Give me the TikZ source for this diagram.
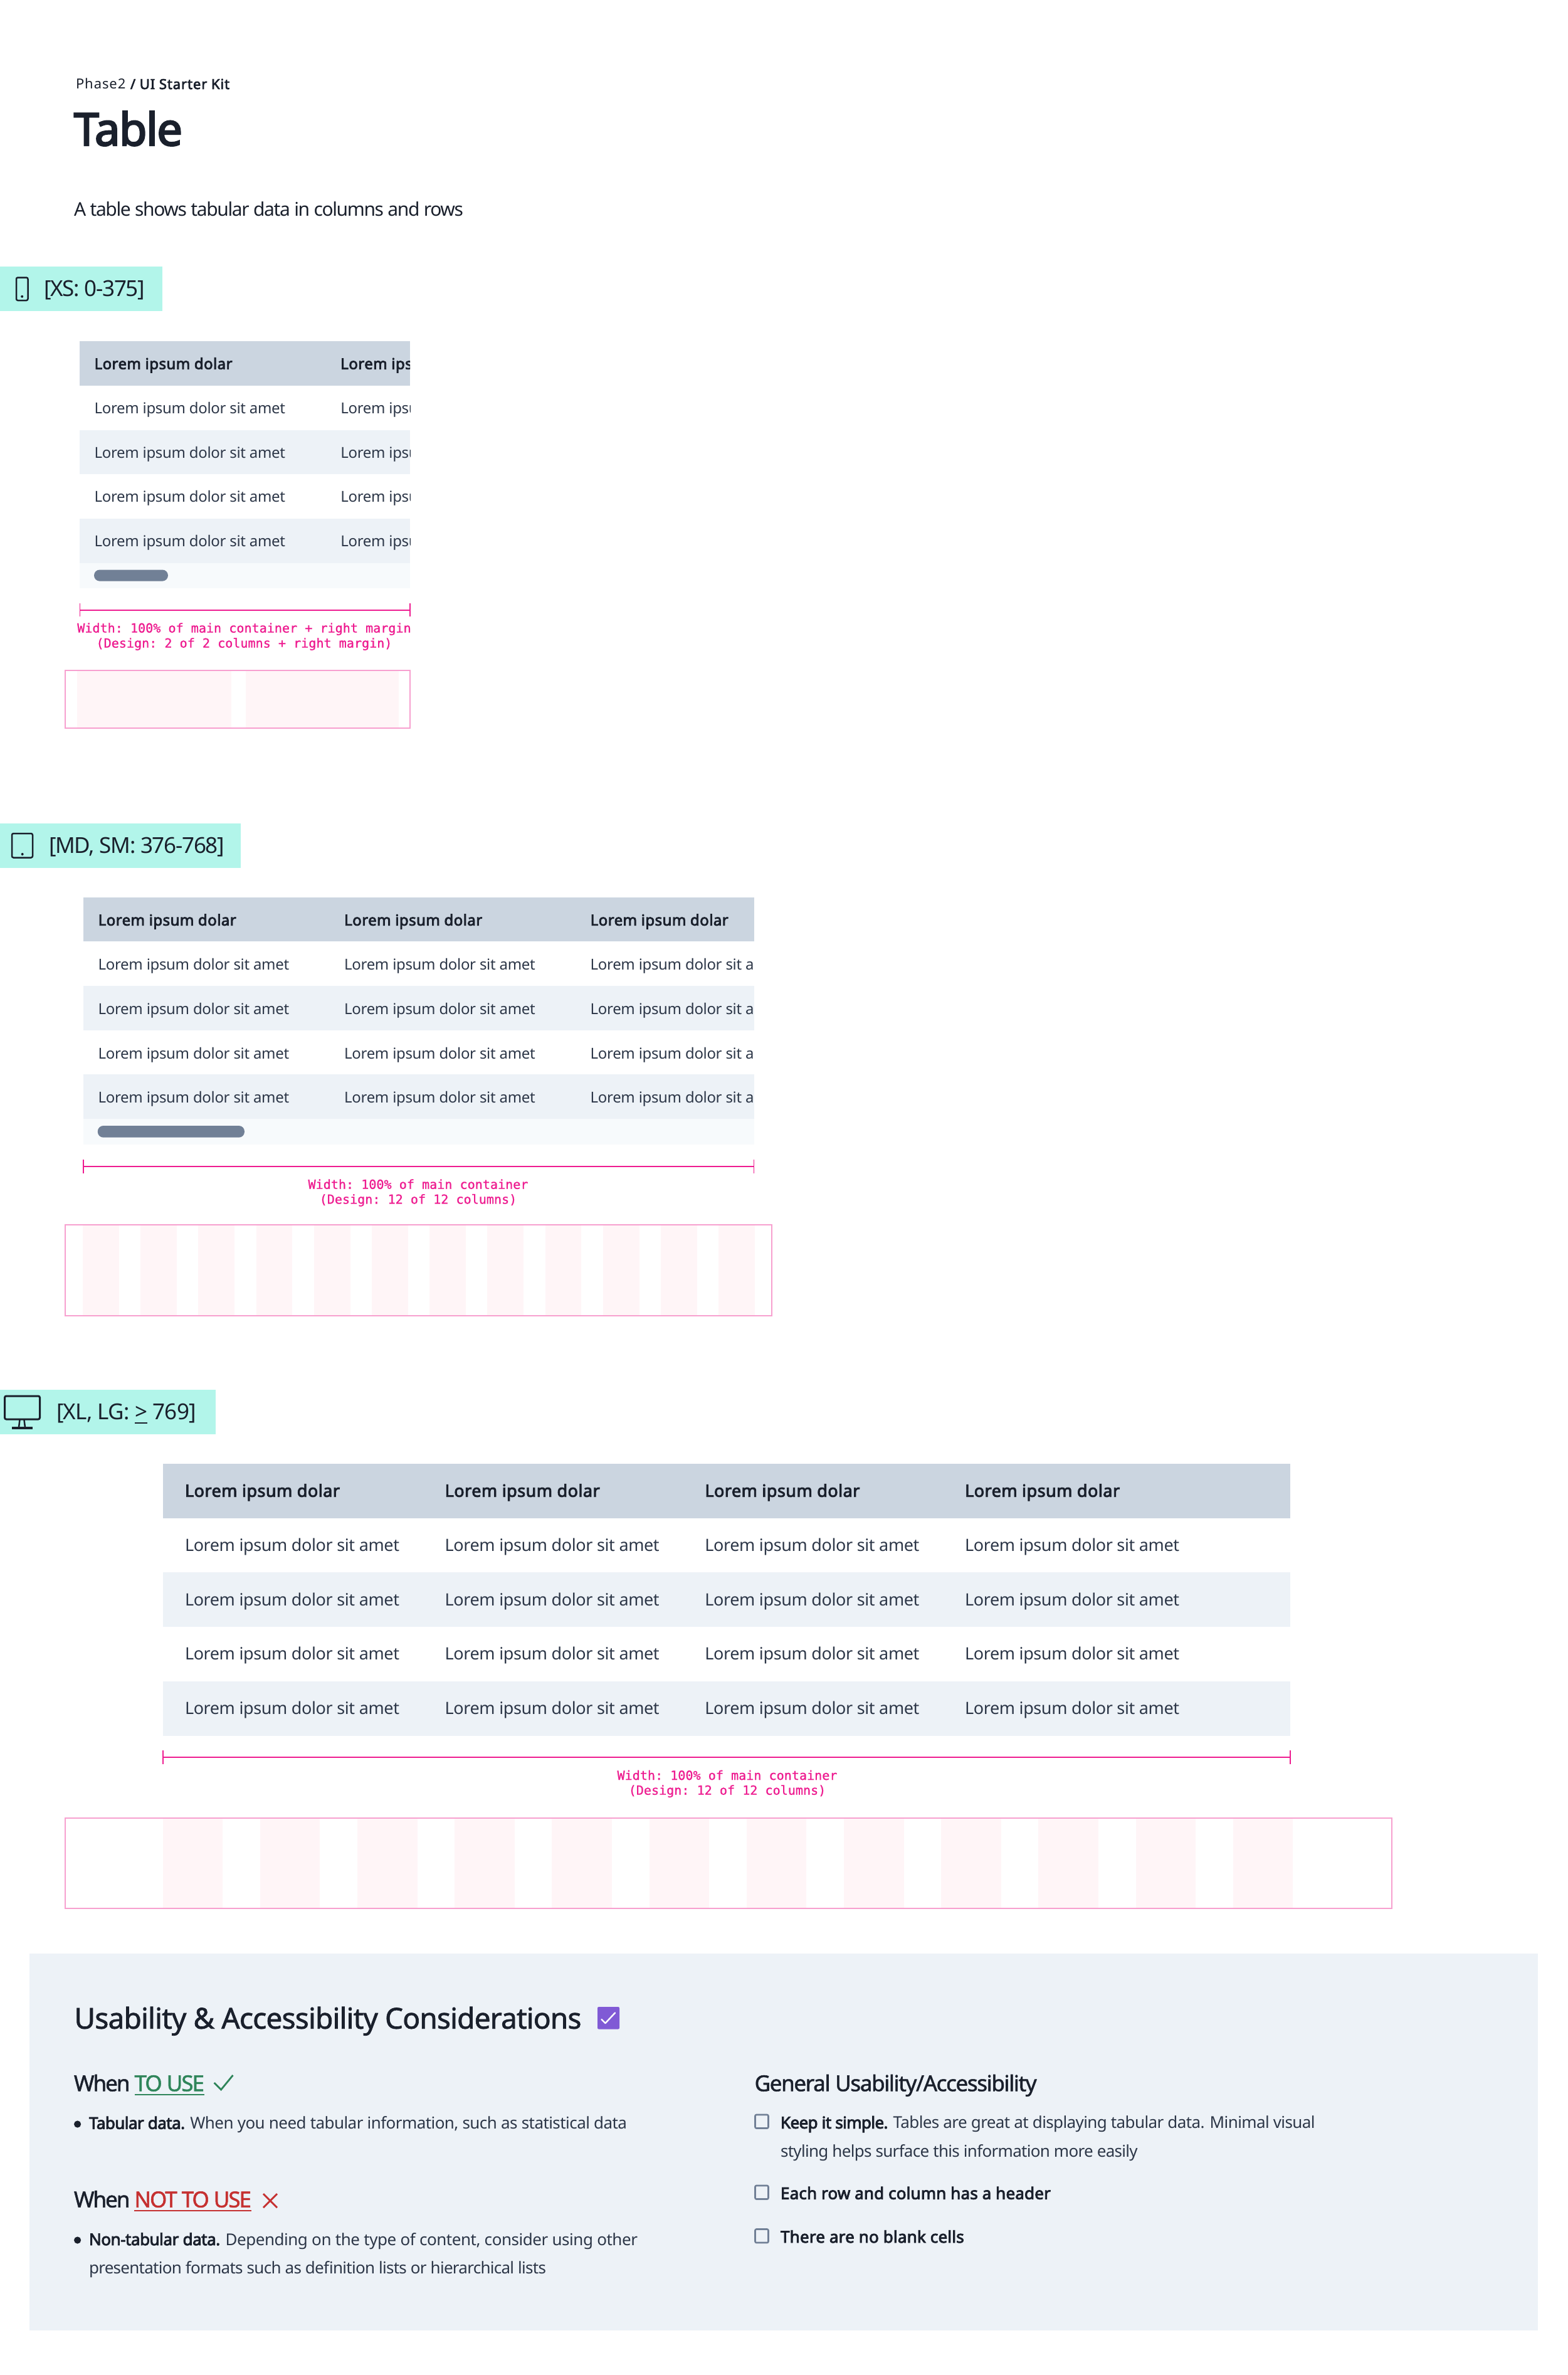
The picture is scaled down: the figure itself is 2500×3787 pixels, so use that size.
\documentclass[tikz,border=0pt]{standalone}
\usepackage{fontspec}
\setmainfont{Noto Sans}[BoldFont={Noto Sans},BoldFeatures={FakeBold=3.4}]
\setmonofont{DejaVu Sans Mono}[FakeBold=1]
\definecolor{ink}{HTML}{1A202C}
\definecolor{body}{HTML}{2D3748}
\definecolor{teal}{HTML}{B2F5EA}
\definecolor{hdr}{HTML}{CBD5E0}
\definecolor{zebra}{HTML}{EDF2F7}
\definecolor{strip}{HTML}{F7FAFC}
\definecolor{pill}{HTML}{718096}
\definecolor{dim}{HTML}{EE1C90}
\definecolor{gridb}{HTML}{F7A0CF}
\definecolor{gridf}{HTML}{FFF5F7}
\definecolor{okc}{HTML}{2F855A}
\definecolor{noc}{HTML}{C53030}
\definecolor{purp}{HTML}{805AD5}
\newlength\fitA
\newlength\fitB
% size, target width, text: letter spacing solved from two trial widths
\newcommand\fitcalc[2]{%
  \begingroup\addfontfeature{LetterSpace=1}\settowidth\fitA{#2}\global\fitA=\fitA\endgroup
  \begingroup\addfontfeature{LetterSpace=11}\settowidth\fitB{#2}\global\fitB=\fitB\endgroup
  \pgfmathsetmacro\fitls{1+(#1-\fitA)/(\fitB-\fitA)*10}}
\newcommand\fitted[3]{\fontsize{#1}{#1}\selectfont\fitcalc{#2}{#3}\addfontfeature{LetterSpace=\fitls}#3}
\newcommand\fittedM[3]{\fontsize{#1}{#1}\selectfont\fitcalc{#2}{#3}\addfontfeature{LetterSpace=\fitls,FakeBold=1.5}#3}
\newcommand\ulbar[3]{\leavevmode\sbox2{#3}\rlap{\rule[-#1pt]{\wd2}{#2pt}}\usebox2}
\tikzset{
  x=1pt,y=-1pt,
  txt/.style={inner sep=0pt,outer sep=0pt,anchor=base west,text=ink},
  bodytxt/.style={txt,text=body},
  monotxt/.style={inner sep=0pt,outer sep=0pt,anchor=base,text=dim,font=\ttfamily\fontsize{20.1}{24}\selectfont},
  dimline/.style={draw=dim,line width=1.6pt},
  dimtick/.style={draw=dim,line width=1.2pt},
  gridbox/.style={draw=gridb,line width=2pt},
  icon/.style={draw=ink,line width=2.5pt,rounded corners=2.5pt},
  cbox/.style={draw=pill,line width=2.6pt,rounded corners=2pt},
  barfill/.style={fill=teal},
}
\begin{document}
\begin{tikzpicture}
\useasboundingbox (0,0) rectangle (2500,3787);
\fill[white] (0,0) rectangle (2500,3787);
% --- header
\node[txt] (crumb) at (121,142) {\fitted{22}{246}{Phase2 \textbf{/ UI Starter Kit}}};
\node[txt] (title) at (118,232) {\fitted{72}{173}{\bfseries Table}};
\node[txt] (desc) at (118,344) {\fitted{30}{621}{A table shows tabular data in columns and rows}};
% --- XS
\fill[barfill] (0,425) rectangle (259,496);
\draw[icon] (26,442.5) rectangle (44.5,479);
\fill[ink] (35.2,472.8) circle (2);
\node[txt] (xslabel) at (70,472) {\fitted{35}{161}{[XS: 0-375]}};
\fill[hdr] (126.5,544) rectangle (654,614.7);
\fill[zebra] (126.5,685.5) rectangle (654,756.2);
\fill[zebra] (126.5,827) rectangle (654,897.7);
\fill[strip] (126.5,897.7) rectangle (654,938);
\fill[pill,rounded corners=9pt] (150,908.5) rectangle (268,926.6);
\begin{scope}
\clip (126.5,540) rectangle (654,940);
\foreach \c/\cx in {1/150.6,2/543.3}{
  \node[txt] (xsh\c) at (\cx,588.6) {\fitted{24}{220}{\bfseries Lorem ipsum dolar}};
  \foreach \r in {1,2,3,4}{
    \node[bodytxt] (xsr\r c\c) at (\cx,588.6+70.7*\r) {\fitted{24}{304.5}{Lorem ipsum dolor sit amet}};
  }
}
\end{scope}
\coordinate (xsa) at (127.5,973);
\coordinate (xsb) at (654,973);
\draw[dimline] (xsa) -- (xsb);
\draw[dimtick] (127.5,962) -- (127.5,983);
\draw[dimtick] (654,962) -- (654,983);
\node[monotxt] (xsw1) at (389.5,1008.6) {Width: 100\% of main container + right margin};
\node[monotxt] (xsw2) at (389.5,1032.6) {(Design: 2 of 2 columns + right margin)};
\fill[gridf] (123,1068) rectangle (368.6,1161);
\fill[gridf] (392,1068) rectangle (635.5,1161);
\draw[gridbox] (104,1069) rectangle (654,1161);
% --- MD
\fill[barfill] (0,1313) rectangle (383.5,1384);
\draw[icon] (19,1329) rectangle (52,1367.5);
\fill[ink] (35.7,1362) circle (2);
\node[txt] (mdlabel) at (78,1360) {\fitted{35}{280}{[MD, SM: 376-768]}};
\fill[hdr] (132.6,1431) rectangle (1202.7,1501);
\fill[zebra] (132.6,1572) rectangle (1202.7,1642.7);
\fill[zebra] (132.6,1713) rectangle (1202.7,1784);
\fill[strip] (132.6,1784) rectangle (1202.7,1824.7);
\fill[pill,rounded corners=9pt] (155.8,1795) rectangle (390,1813.7);
\begin{scope}
\clip (132.6,1430) rectangle (1202.7,1826);
\foreach \c/\cx in {1/156.7,2/549.2,3/941.7}{
  \node[txt] (mdh\c) at (\cx,1475.7) {\fitted{24}{220}{\bfseries Lorem ipsum dolar}};
  \foreach \r in {1,2,3,4}{
    \node[bodytxt] (mdr\r c\c) at (\cx,1475.7+70.8*\r) {\fitted{24}{304.5}{Lorem ipsum dolor sit amet}};
  }
}
\end{scope}
\coordinate (mda) at (133,1860);
\coordinate (mdb) at (1202.7,1860);
\draw[dimline] (mda) -- (mdb);
\draw[dimtick] (133,1849) -- (133,1871);
\draw[dimtick] (1202.7,1849) -- (1202.7,1871);
\node[monotxt] (mdw1) at (667,1895.7) {Width: 100\% of main container};
\node[monotxt] (mdw2) at (667,1919.4) {(Design: 12 of 12 columns)};
\foreach \i in {0,...,11}{ \fill[gridf] (132+\i*92.2,1952) rectangle (189.7+\i*92.2,2098); }
\draw[gridbox] (104,1953) rectangle (1231,2098);
% --- XL
\fill[barfill] (0,2216) rectangle (344,2287);
\draw[icon,line width=3pt] (7.5,2226) rectangle (63.5,2263);
\draw[ink,line width=2.5pt] (31.5,2264) -- (30,2276) (38.5,2264) -- (40,2276);
\draw[ink,line width=3.4pt] (19,2277) -- (51.5,2277);
\node[txt] (xllabel) at (90,2263) {\fitted{35}{223}{[XL, LG: \ulbar{6.5}{1.6}{>} 769]}};
\fill[hdr] (259.5,2334) rectangle (2058,2420.7);
\fill[zebra] (259.5,2507.4) rectangle (2058,2594.1);
\fill[zebra] (259.5,2680.8) rectangle (2058,2767.7);
\foreach \c/\cx in {1/295,2/709.7,3/1124.4,4/1539.1}{
  \node[txt] (xlh\c) at (\cx,2386.7) {\fitted{27}{247}{\bfseries Lorem ipsum dolar}};
  \foreach \r in {1,2,3,4}{
    \node[bodytxt] (xlr\r c\c) at (\cx,2386.7+86.7*\r) {\fitted{27}{342}{Lorem ipsum dolor sit amet}};
  }
}
\coordinate (xla) at (260,2802);
\coordinate (xlb) at (2058,2802);
\draw[dimline] (xla) -- (xlb);
\draw[dimtick] (260,2791) -- (260,2813);
\draw[dimtick] (2058,2791) -- (2058,2813);
\node[monotxt] (xlw1) at (1160,2838) {Width: 100\% of main container};
\node[monotxt] (xlw2) at (1160,2861.7) {(Design: 12 of 12 columns)};
\foreach \i in {0,...,11}{ \fill[gridf] (259.6+\i*155.2,2898) rectangle (355.1+\i*155.2,3043); }
\draw[gridbox] (104,2899) rectangle (2220,3043);
% --- Usability panel
\fill[zebra] (47,3115) rectangle (2453,3715.7);
\node[txt] (uah) at (118.5,3234.7) {\fittedM{46}{809}{Usability \& Accessibility Considerations}};
\fill[purp,rounded corners=2pt] (953,3200) rectangle (988,3235.5);
\draw[white,line width=2.4pt,line join=round,line cap=round] (959.5,3220) -- (965.5,3226) -- (981,3209.5);
\node[txt] (when1) at (118,3334.4) {\fittedM{35}{208}{When {\color{okc}\ulbar{6.5}{2}{TO USE}}}};
\draw[okc,line width=2.8pt] (341.7,3321) -- (352.6,3332) -- (371.5,3309);
\fill[ink] (123.6,3387) circle (5.6);
\node[bodytxt] (tab) at (142,3394.6) {\fitted{26}{858}{\textbf{\color{ink}Tabular data.} When you need tabular information, such as statistical data}};
\node[txt] (when2) at (118,3519.6) {\fittedM{35}{283}{When {\color{noc}\ulbar{6.5}{2}{NOT TO USE}}}};
\draw[noc,line width=2.8pt] (420,3498) -- (442,3520) (442,3498) -- (420,3520);
\fill[ink] (123.6,3572) circle (5.6);
\node[bodytxt] (nontab) at (142,3580) {\fitted{26}{875}{\textbf{\color{ink}Non-tabular data.} Depending on the type of content, consider using other}};
\node[bodytxt] (nontab2) at (142,3625.7) {\fitted{26}{729}{presentation formats such as definition lists or hierarchical lists}};
\node[txt] (gen) at (1203.6,3334.4) {\fittedM{35}{450}{General Usability/Accessibility}};
\draw[cbox] (1204.5,3372) rectangle (1225.5,3393.5);
\node[bodytxt] (keep) at (1245,3393.8) {\fitted{26}{852.5}{\textbf{\color{ink}Keep it simple.} Tables are great at displaying tabular data. Minimal visual}};
\node[bodytxt] (keep2) at (1245,3439) {\fitted{26}{569.7}{styling helps surface this information more easily}};
\draw[cbox] (1204.5,3485) rectangle (1225.5,3506.5);
\node[txt] (each) at (1245,3506.6) {\fitted{26}{430.8}{\bfseries Each row and column has a header}};
\draw[cbox] (1204.5,3554.5) rectangle (1225.5,3576);
\node[txt] (blank) at (1245,3576) {\fitted{26}{292.7}{\bfseries There are no blank cells}};
\end{tikzpicture}
\end{document}
